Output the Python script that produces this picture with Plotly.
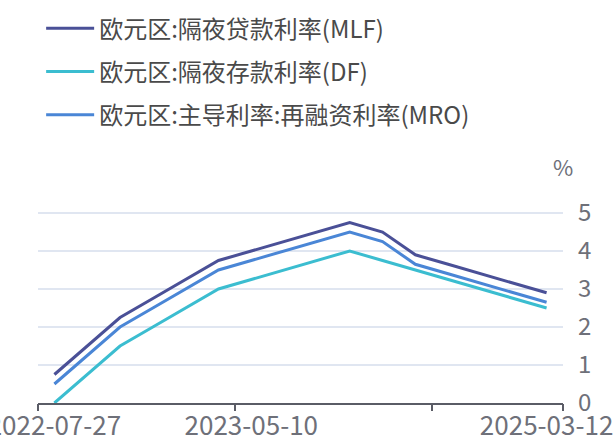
import plotly.graph_objects as go

# ECB policy rate decision dates (category axis)
dates = [
    "2022-07-27", "2022-09-14", "2022-11-02", "2022-12-21", "2023-02-08",
    "2023-03-22", "2023-05-10", "2023-06-21", "2023-08-02", "2023-09-20",
    "2024-06-12", "2024-09-18", "2024-10-23", "2024-12-18", "2025-02-05",
    "2025-03-12",
]
mlf = [0.75, 1.50, 2.25, 2.75, 3.25, 3.75, 4.00, 4.25, 4.50, 4.75,
       4.50, 3.90, 3.65, 3.40, 3.15, 2.90]
df_rate = [0.00, 0.75, 1.50, 2.00, 2.50, 3.00, 3.25, 3.50, 3.75, 4.00,
           3.75, 3.50, 3.25, 3.00, 2.75, 2.50]
mro = [0.50, 1.25, 2.00, 2.50, 3.00, 3.50, 3.75, 4.00, 4.25, 4.50,
       4.25, 3.65, 3.40, 3.15, 2.90, 2.65]

label_dates = ["2022-07-27", "2023-05-10", "2025-03-12"]
y_ticks = [0, 1, 2, 3, 4, 5]
# tick marks sit on category boundaries (index positions)
boundary_ticks = [-0.5, 5.5, 11.5, 15.5]

COLORS = {
    "MLF": "#4a5097",
    "DF": "#3bbdd0",
    "MRO": "#4a86d6",
    "grid": "#e0e6f1",
    "axis": "#5a5c66",
    "label": "#6e7079",
    "legend": "#4a4a4a",
}
FONT = "Noto Sans CJK SC, Noto Sans, sans-serif"

fig = go.Figure()

series = [
    ("欧元区:隔夜贷款利率(MLF)", mlf, COLORS["MLF"], "g1"),
    ("欧元区:隔夜存款利率(DF)", df_rate, COLORS["DF"], "g2"),
    ("欧元区:主导利率:再融资利率(MRO)", mro, COLORS["MRO"], "g3"),
]
for name, vals, color, grp in series:
    fig.add_trace(go.Scatter(
        x=dates, y=vals, name=name, mode="lines",
        line=dict(color=color, width=3),
        legendgroup=grp,
    ))

# helper axis only for boundary tick marks
fig.add_trace(go.Scatter(x=[], y=[], xaxis="x2", showlegend=False, hoverinfo="skip"))

# 38 px per percentage point, axis line at y=403
top, bottom = 209, 37
plot_w = 614 - 38 - 51
plot_h = 440 - top - bottom
y_max = plot_h / 38

fig.update_layout(
    width=614, height=440,
    paper_bgcolor="white", plot_bgcolor="white",
    font=dict(family=FONT, size=24, color=COLORS["label"]),
    margin=dict(l=38, r=51, t=top, b=bottom, autoexpand=False),
    showlegend=True,
    legend=dict(
        x=0.067, y=0.986, xref="container", yref="container",
        xanchor="left", yanchor="top",
        font=dict(size=24, color=COLORS["legend"], family=FONT),
        traceorder="grouped", tracegroupgap=9,
        itemwidth=48, bgcolor="rgba(0,0,0,0)",
    ),
    xaxis=dict(
        type="category",
        categoryorder="array", categoryarray=dates,
        range=[-0.5, 15.5],
        tickmode="array", tickvals=label_dates, ticktext=label_dates,
        ticks="", showgrid=False, zeroline=False,
        showline=True, linecolor=COLORS["axis"], linewidth=1.5,
        tickfont=dict(size=26, color=COLORS["label"]),
        ticklabelstandoff=-1,
        automargin=False,
    ),
    xaxis2=dict(
        overlaying="x", anchor="y", side="bottom",
        range=[-0.5, 15.5],
        tickmode="array", tickvals=boundary_ticks,
        ticks="outside", ticklen=7, tickwidth=1.5, tickcolor=COLORS["axis"],
        showticklabels=False, showgrid=False, zeroline=False, showline=False,
    ),
    yaxis=dict(
        side="right", range=[0, y_max], tickvals=y_ticks,
        showgrid=True, gridcolor=COLORS["grid"], gridwidth=1.5,
        zeroline=False, showline=False, ticks="",
        tickfont=dict(size=24, color=COLORS["label"]),
        ticklabelstandoff=14,
        automargin=False,
    ),
    annotations=[dict(
        text="%", x=(563 - 38) / plot_w, y=(403 - 166) / plot_h,
        xref="paper", yref="paper", xanchor="center", yanchor="middle",
        showarrow=False, font=dict(size=22, color=COLORS["label"]),
    )],
)

# drop the browser's default body margin so the figure sits at the page origin
fig.write_html(
    "out.html",
    config={"displayModeBar": False},
    post_script="document.body.style.margin='0';",
)
